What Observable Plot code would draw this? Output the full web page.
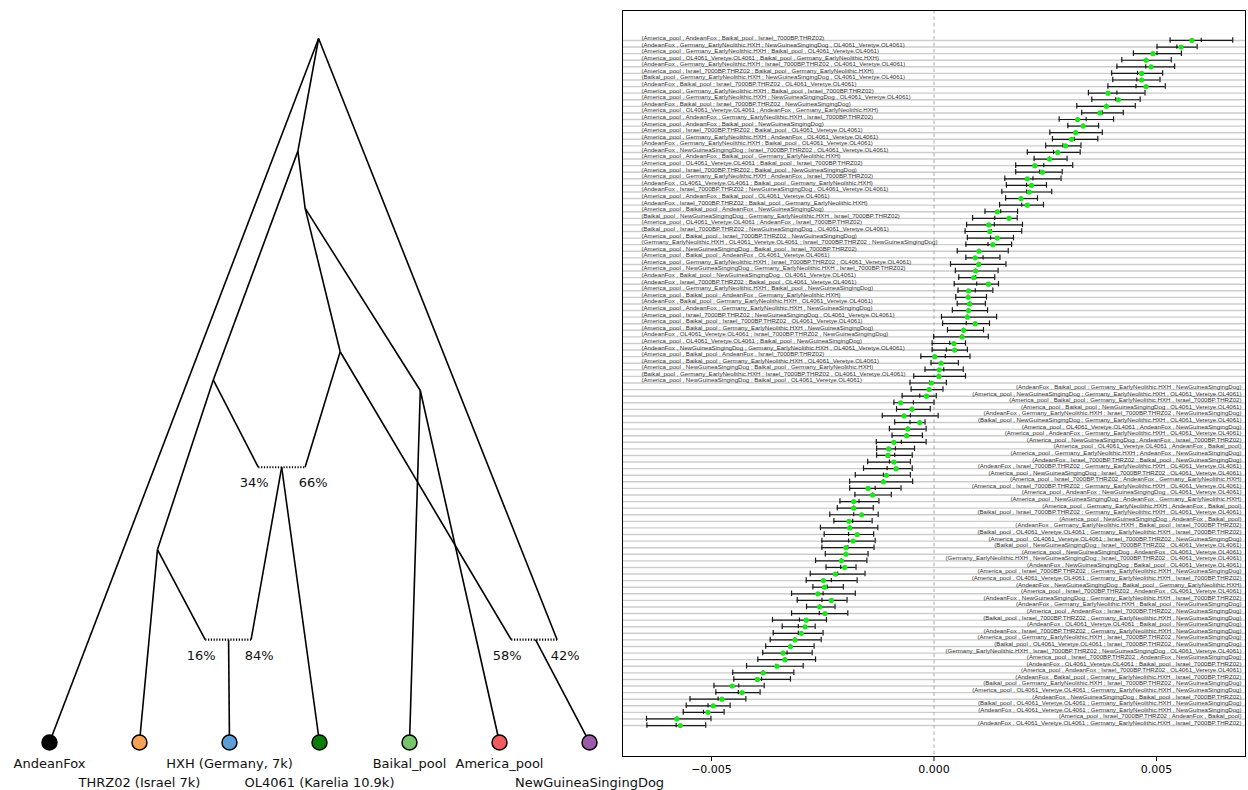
<!DOCTYPE html>
<html><head><meta charset="utf-8">
<script src="https://cdn.jsdelivr.net/npm/d3@7"></script>
<script src="https://cdn.jsdelivr.net/npm/@observablehq/plot@0.6"></script>
<style>
body{margin:0;background:#fff;}
#wrap{position:relative;width:1248px;height:790px;overflow:hidden;background:#fff;}
#tree{position:absolute;left:0;top:0;}
#f4{position:absolute;left:620px;top:0;}
</style></head><body><div id="wrap"><div id="tree"></div><div id="f4"></div></div>
<script>
// ---------- admixture graph (left) ----------
const leafNames = ["AndeanFox","THRZ02 (Israel 7k)","HXH (Germany, 7k)","OL4061 (Karelia 10.9k)","Baikal_pool","America_pool","NewGuineaSingingDog"];
const leafIds = ["AF","THRZ","HXH","OL","BAI","AME","NGSD"];
const leafColors = ["#000000","#f5a257","#5b9fd6","#0a7d0a","#78c46c","#ef5b5e","#9a5ca8"];
const leafLabelRow = [0,1,0,1,0,0,1];
const nodeIds    = ["R","B","C","D","E","G","H","L16","R84","HXHa","L34","R66","OLa","L58","R42","NGa"];
const nodeSlot   = [2.99,2.76,1.82,1.20,2.84,3.23,4.12,1.73,2.24,1.99,2.32,2.84,2.58,5.13,5.64,5.40];
const nodeHeight = [1.00,0.84,0.515,0.274,0.759,0.555,0.50,0.146,0.146,0.146,0.391,0.391,0.391,0.146,0.146,0.146];
const treeEdges = [["R","AF"],["R","B"],["R","R42"],["B","C"],["C","D"],["D","THRZ"],["D","L16"],["C","L34"],
  ["OLa","OL"],["OLa","R84"],["HXHa","HXH"],["B","E"],["E","G"],["G","R66"],["G","L58"],["E","H"],["H","BAI"],["H","AME"],["NGa","NGSD"]];
const admixLeft  = ["L16","L34","L58"];
const admixRight = ["R84","R66","R42"];
const admixLeftPct  = ["16%","34%","58%"];
const admixRightPct = ["84%","66%","42%"];

const pos = new Map();
leafIds.forEach((id,i)=>pos.set(id,{x:i,y:0}));
nodeIds.forEach((id,i)=>pos.set(id,{x:nodeSlot[i],y:nodeHeight[i]}));
const edgeData = treeEdges.map(([a,b])=>({x1:pos.get(a).x,y1:pos.get(a).y,x2:pos.get(b).x,y2:pos.get(b).y}));
const admixData = admixLeft.map((l,i)=>({x1:pos.get(l).x,x2:pos.get(admixRight[i]).x,y:pos.get(l).y,pl:admixLeftPct[i],pr:admixRightPct[i]}));
const leaves = leafIds.map((id,i)=>({x:i,y:0,name:leafNames[i],color:leafColors[i],row:leafLabelRow[i]}));

const tree = Plot.plot({
  width:700,height:790,margin:0,
  x:{domain:[-0.544,7.233],axis:null},
  y:{domain:[-0.0682,1.054],axis:null},
  style:{fontFamily:"DejaVu Sans",background:"transparent",overflow:"visible"},
  marks:[
    Plot.link(edgeData,{x1:"x1",y1:"y1",x2:"x2",y2:"y2",stroke:"#000",strokeWidth:1.6}),
    Plot.link(admixData,{x1:"x1",x2:"x2",y1:"y",y2:"y",stroke:"#000",strokeWidth:2.2,strokeDasharray:"1.2,1.6"}),
    Plot.text(admixData,{x:"x1",y:"y",text:"pl",dy:16,dx:-4,fontSize:13,fill:"#111"}),
    Plot.text(admixData,{x:"x2",y:"y",text:"pr",dy:16,dx:8,fontSize:13,fill:"#111"}),
    Plot.dot(leaves,{x:"x",y:"y",r:7.5,fill:"color",stroke:"#000",strokeWidth:1.5}),
    Plot.text(leaves.filter(d=>d.row===0),{x:"x",y:"y",text:"name",dy:21,fontSize:13,fill:"#111"}),
    Plot.text(leaves.filter(d=>d.row===1),{x:"x",y:"y",text:"name",dy:40,fontSize:13,fill:"#111"})
  ]
});
document.getElementById("tree").appendChild(tree);

// ---------- f4 statistics (right) ----------
const labels = [
"(America_pool , AndeanFox ; Baikal_pool , Israel_7000BP.THRZ02)",
"(AndeanFox , Germany_EarlyNeolithic.HXH ; NewGuineaSingingDog , OL4061_Veretye.OL4061)",
"(America_pool , Germany_EarlyNeolithic.HXH ; Baikal_pool , OL4061_Veretye.OL4061)",
"(America_pool , OL4061_Veretye.OL4061 ; Baikal_pool , Germany_EarlyNeolithic.HXH)",
"(AndeanFox , Germany_EarlyNeolithic.HXH ; Israel_7000BP.THRZ02 , OL4061_Veretye.OL4061)",
"(America_pool , Israel_7000BP.THRZ02 ; Baikal_pool , Germany_EarlyNeolithic.HXH)",
"(Baikal_pool , Germany_EarlyNeolithic.HXH ; NewGuineaSingingDog , OL4061_Veretye.OL4061)",
"(AndeanFox , Baikal_pool ; Israel_7000BP.THRZ02 , OL4061_Veretye.OL4061)",
"(America_pool , Germany_EarlyNeolithic.HXH ; Baikal_pool , Israel_7000BP.THRZ02)",
"(America_pool , Germany_EarlyNeolithic.HXH ; NewGuineaSingingDog , OL4061_Veretye.OL4061)",
"(AndeanFox , Baikal_pool ; Israel_7000BP.THRZ02 , NewGuineaSingingDog)",
"(America_pool , OL4061_Veretye.OL4061 ; AndeanFox , Germany_EarlyNeolithic.HXH)",
"(America_pool , AndeanFox ; Germany_EarlyNeolithic.HXH , Israel_7000BP.THRZ02)",
"(America_pool , AndeanFox ; Baikal_pool , NewGuineaSingingDog)",
"(America_pool , Israel_7000BP.THRZ02 ; Baikal_pool , OL4061_Veretye.OL4061)",
"(America_pool , Germany_EarlyNeolithic.HXH ; AndeanFox , OL4061_Veretye.OL4061)",
"(AndeanFox , Germany_EarlyNeolithic.HXH ; Baikal_pool , OL4061_Veretye.OL4061)",
"(AndeanFox , NewGuineaSingingDog ; Israel_7000BP.THRZ02 , OL4061_Veretye.OL4061)",
"(America_pool , AndeanFox ; Baikal_pool , Germany_EarlyNeolithic.HXH)",
"(America_pool , OL4061_Veretye.OL4061 ; Baikal_pool , Israel_7000BP.THRZ02)",
"(America_pool , Israel_7000BP.THRZ02 ; Baikal_pool , NewGuineaSingingDog)",
"(America_pool , Germany_EarlyNeolithic.HXH ; AndeanFox , Israel_7000BP.THRZ02)",
"(AndeanFox , OL4061_Veretye.OL4061 ; Baikal_pool , Germany_EarlyNeolithic.HXH)",
"(AndeanFox , Israel_7000BP.THRZ02 ; NewGuineaSingingDog , OL4061_Veretye.OL4061)",
"(America_pool , AndeanFox ; Baikal_pool , OL4061_Veretye.OL4061)",
"(AndeanFox , Israel_7000BP.THRZ02 ; Baikal_pool , Germany_EarlyNeolithic.HXH)",
"(America_pool , Baikal_pool ; AndeanFox , NewGuineaSingingDog)",
"(Baikal_pool , NewGuineaSingingDog ; Germany_EarlyNeolithic.HXH , Israel_7000BP.THRZ02)",
"(America_pool , OL4061_Veretye.OL4061 ; AndeanFox , Israel_7000BP.THRZ02)",
"(Baikal_pool , Israel_7000BP.THRZ02 ; NewGuineaSingingDog , OL4061_Veretye.OL4061)",
"(America_pool , Baikal_pool ; Israel_7000BP.THRZ02 , NewGuineaSingingDog)",
"(Germany_EarlyNeolithic.HXH , OL4061_Veretye.OL4061 ; Israel_7000BP.THRZ02 , NewGuineaSingingDog)",
"(America_pool , NewGuineaSingingDog ; Baikal_pool , Israel_7000BP.THRZ02)",
"(America_pool , Baikal_pool ; AndeanFox , OL4061_Veretye.OL4061)",
"(America_pool , Germany_EarlyNeolithic.HXH ; Israel_7000BP.THRZ02 , OL4061_Veretye.OL4061)",
"(America_pool , NewGuineaSingingDog ; Germany_EarlyNeolithic.HXH , Israel_7000BP.THRZ02)",
"(AndeanFox , Baikal_pool ; NewGuineaSingingDog , OL4061_Veretye.OL4061)",
"(AndeanFox , Israel_7000BP.THRZ02 ; Baikal_pool , OL4061_Veretye.OL4061)",
"(America_pool , Germany_EarlyNeolithic.HXH ; Baikal_pool , NewGuineaSingingDog)",
"(America_pool , Baikal_pool ; AndeanFox , Germany_EarlyNeolithic.HXH)",
"(AndeanFox , Baikal_pool ; Germany_EarlyNeolithic.HXH , OL4061_Veretye.OL4061)",
"(America_pool , AndeanFox ; Germany_EarlyNeolithic.HXH , NewGuineaSingingDog)",
"(America_pool , Israel_7000BP.THRZ02 ; NewGuineaSingingDog , OL4061_Veretye.OL4061)",
"(America_pool , Baikal_pool ; Israel_7000BP.THRZ02 , OL4061_Veretye.OL4061)",
"(America_pool , Baikal_pool ; Germany_EarlyNeolithic.HXH , NewGuineaSingingDog)",
"(AndeanFox , OL4061_Veretye.OL4061 ; Israel_7000BP.THRZ02 , NewGuineaSingingDog)",
"(America_pool , OL4061_Veretye.OL4061 ; Baikal_pool , NewGuineaSingingDog)",
"(AndeanFox , NewGuineaSingingDog ; Germany_EarlyNeolithic.HXH , OL4061_Veretye.OL4061)",
"(America_pool , Baikal_pool ; AndeanFox , Israel_7000BP.THRZ02)",
"(America_pool , Baikal_pool ; Germany_EarlyNeolithic.HXH , OL4061_Veretye.OL4061)",
"(America_pool , NewGuineaSingingDog ; Baikal_pool , Germany_EarlyNeolithic.HXH)",
"(Baikal_pool , Germany_EarlyNeolithic.HXH ; Israel_7000BP.THRZ02 , OL4061_Veretye.OL4061)",
"(America_pool , NewGuineaSingingDog ; Baikal_pool , OL4061_Veretye.OL4061)",
"(AndeanFox , Baikal_pool ; Germany_EarlyNeolithic.HXH , NewGuineaSingingDog)",
"(America_pool , NewGuineaSingingDog ; Germany_EarlyNeolithic.HXH , OL4061_Veretye.OL4061)",
"(America_pool , Baikal_pool ; Germany_EarlyNeolithic.HXH , Israel_7000BP.THRZ02)",
"(America_pool , Baikal_pool ; NewGuineaSingingDog , OL4061_Veretye.OL4061)",
"(AndeanFox , Germany_EarlyNeolithic.HXH ; Israel_7000BP.THRZ02 , NewGuineaSingingDog)",
"(Baikal_pool , NewGuineaSingingDog ; Germany_EarlyNeolithic.HXH , OL4061_Veretye.OL4061)",
"(America_pool , OL4061_Veretye.OL4061 ; AndeanFox , NewGuineaSingingDog)",
"(America_pool , AndeanFox ; Germany_EarlyNeolithic.HXH , OL4061_Veretye.OL4061)",
"(America_pool , NewGuineaSingingDog ; AndeanFox , Israel_7000BP.THRZ02)",
"(America_pool , OL4061_Veretye.OL4061 ; AndeanFox , Baikal_pool)",
"(America_pool , Germany_EarlyNeolithic.HXH ; AndeanFox , NewGuineaSingingDog)",
"(AndeanFox , Israel_7000BP.THRZ02 ; Baikal_pool , NewGuineaSingingDog)",
"(AndeanFox , Israel_7000BP.THRZ02 ; Germany_EarlyNeolithic.HXH , OL4061_Veretye.OL4061)",
"(America_pool , NewGuineaSingingDog ; Israel_7000BP.THRZ02 , OL4061_Veretye.OL4061)",
"(America_pool , Israel_7000BP.THRZ02 ; AndeanFox , Germany_EarlyNeolithic.HXH)",
"(America_pool , Israel_7000BP.THRZ02 ; Germany_EarlyNeolithic.HXH , OL4061_Veretye.OL4061)",
"(America_pool , AndeanFox ; NewGuineaSingingDog , OL4061_Veretye.OL4061)",
"(America_pool , NewGuineaSingingDog ; AndeanFox , Germany_EarlyNeolithic.HXH)",
"(America_pool , Germany_EarlyNeolithic.HXH ; AndeanFox , Baikal_pool)",
"(Baikal_pool , Israel_7000BP.THRZ02 ; Germany_EarlyNeolithic.HXH , OL4061_Veretye.OL4061)",
"(America_pool , NewGuineaSingingDog ; AndeanFox , Baikal_pool)",
"(AndeanFox , Germany_EarlyNeolithic.HXH ; Baikal_pool , Israel_7000BP.THRZ02)",
"(Baikal_pool , OL4061_Veretye.OL4061 ; Germany_EarlyNeolithic.HXH , Israel_7000BP.THRZ02)",
"(America_pool , OL4061_Veretye.OL4061 ; Israel_7000BP.THRZ02 , NewGuineaSingingDog)",
"(Baikal_pool , NewGuineaSingingDog ; Israel_7000BP.THRZ02 , OL4061_Veretye.OL4061)",
"(America_pool , NewGuineaSingingDog ; AndeanFox , OL4061_Veretye.OL4061)",
"(Germany_EarlyNeolithic.HXH , NewGuineaSingingDog ; Israel_7000BP.THRZ02 , OL4061_Veretye.OL4061)",
"(AndeanFox , NewGuineaSingingDog ; Baikal_pool , OL4061_Veretye.OL4061)",
"(America_pool , Israel_7000BP.THRZ02 ; Germany_EarlyNeolithic.HXH , NewGuineaSingingDog)",
"(America_pool , OL4061_Veretye.OL4061 ; Germany_EarlyNeolithic.HXH , Israel_7000BP.THRZ02)",
"(AndeanFox , NewGuineaSingingDog ; Baikal_pool , Germany_EarlyNeolithic.HXH)",
"(America_pool , Israel_7000BP.THRZ02 ; AndeanFox , OL4061_Veretye.OL4061)",
"(AndeanFox , NewGuineaSingingDog ; Germany_EarlyNeolithic.HXH , Israel_7000BP.THRZ02)",
"(AndeanFox , Germany_EarlyNeolithic.HXH ; Baikal_pool , NewGuineaSingingDog)",
"(America_pool , AndeanFox ; Israel_7000BP.THRZ02 , NewGuineaSingingDog)",
"(Baikal_pool , Israel_7000BP.THRZ02 ; Germany_EarlyNeolithic.HXH , NewGuineaSingingDog)",
"(AndeanFox , OL4061_Veretye.OL4061 ; Baikal_pool , NewGuineaSingingDog)",
"(AndeanFox , Israel_7000BP.THRZ02 ; Germany_EarlyNeolithic.HXH , NewGuineaSingingDog)",
"(America_pool , Germany_EarlyNeolithic.HXH ; Israel_7000BP.THRZ02 , NewGuineaSingingDog)",
"(Baikal_pool , OL4061_Veretye.OL4061 ; Israel_7000BP.THRZ02 , NewGuineaSingingDog)",
"(Germany_EarlyNeolithic.HXH , Israel_7000BP.THRZ02 ; NewGuineaSingingDog , OL4061_Veretye.OL4061)",
"(America_pool , Israel_7000BP.THRZ02 ; AndeanFox , NewGuineaSingingDog)",
"(AndeanFox , OL4061_Veretye.OL4061 ; Baikal_pool , Israel_7000BP.THRZ02)",
"(America_pool , AndeanFox ; Israel_7000BP.THRZ02 , OL4061_Veretye.OL4061)",
"(AndeanFox , Baikal_pool ; Germany_EarlyNeolithic.HXH , Israel_7000BP.THRZ02)",
"(Baikal_pool , Germany_EarlyNeolithic.HXH ; Israel_7000BP.THRZ02 , NewGuineaSingingDog)",
"(America_pool , OL4061_Veretye.OL4061 ; Germany_EarlyNeolithic.HXH , NewGuineaSingingDog)",
"(AndeanFox , NewGuineaSingingDog ; Baikal_pool , Israel_7000BP.THRZ02)",
"(Baikal_pool , OL4061_Veretye.OL4061 ; Germany_EarlyNeolithic.HXH , NewGuineaSingingDog)",
"(AndeanFox , OL4061_Veretye.OL4061 ; Germany_EarlyNeolithic.HXH , NewGuineaSingingDog)",
"(America_pool , Israel_7000BP.THRZ02 ; AndeanFox , Baikal_pool)",
"(AndeanFox , OL4061_Veretye.OL4061 ; Germany_EarlyNeolithic.HXH , Israel_7000BP.THRZ02)"
];
// model-fitted f4 (green dot), observed f4 (black tick), error bar ends
const est = [0.005795,0.005551,0.004919,0.004767,0.004877,0.004666,0.004666,0.004767,0.003908,0.004144,0.003875,0.003731,0.003226,0.003352,0.003184,0.003091,0.002956,0.002780,0.002594,0.002266,0.002434,0.002097,0.002190,0.002139,0.001954,0.002097,0.001423,0.001685,0.001230,0.001255,0.001423,0.001322,0.001011,0.000927,0.001002,0.000935,0.000893,0.001221,0.000775,0.000766,0.000800,0.000775,0.000750,0.000927,0.000665,0.000632,0.000446,0.000463,0.000017,0.000160,0.000118,0.000110,-0.000059,-0.000110,-0.000168,-0.000750,-0.000497,-0.000674,-0.000320,-0.000590,-0.000615,-0.000901,-0.001019,-0.001036,-0.000901,-0.000851,-0.001070,-0.001137,-0.001482,-0.001381,-0.001803,-0.001803,-0.001626,-0.001912,-0.001895,-0.001727,-0.001819,-0.001979,-0.001979,-0.002080,-0.002005,-0.002215,-0.002485,-0.002460,-0.002611,-0.002308,-0.002569,-0.002451,-0.002872,-0.002898,-0.002982,-0.003125,-0.003226,-0.003394,-0.003352,-0.003529,-0.003841,-0.003967,-0.004532,-0.004313,-0.004767,-0.004961,-0.005079,-0.005778,-0.005702];
const obs = [0.006006,0.005458,0.005012,0.004767,0.004759,0.004574,0.004557,0.004540,0.004110,0.004085,0.003875,0.003782,0.003420,0.003352,0.003184,0.003150,0.002898,0.002687,0.002594,0.002468,0.002375,0.002224,0.002080,0.002080,0.001954,0.001971,0.001499,0.001365,0.001356,0.001289,0.001272,0.001213,0.001011,0.001103,0.001002,0.000935,0.000935,0.000960,0.000927,0.000766,0.000800,0.000775,0.000750,0.000724,0.000665,0.000632,0.000354,0.000278,0.000253,0.000160,0.000219,0.000110,-0.000101,-0.000110,-0.000320,-0.000463,-0.000497,-0.000531,-0.000539,-0.000590,-0.000615,-0.000733,-0.000868,-0.000884,-0.001002,-0.001053,-0.001137,-0.001137,-0.001322,-0.001381,-0.001685,-0.001803,-0.001803,-0.001828,-0.001895,-0.001920,-0.001920,-0.001937,-0.001979,-0.002080,-0.002097,-0.002165,-0.002308,-0.002401,-0.002493,-0.002518,-0.002569,-0.002577,-0.003024,-0.003049,-0.003049,-0.003125,-0.003226,-0.003302,-0.003352,-0.003554,-0.003841,-0.003875,-0.004388,-0.004397,-0.004852,-0.005079,-0.005180,-0.005778,-0.005795];
const ciLow = [0.005306,0.005012,0.004481,0.004220,0.004110,0.003993,0.004018,0.003908,0.003470,0.003546,0.003209,0.003319,0.002813,0.003007,0.002603,0.002662,0.002510,0.002097,0.002249,0.001836,0.001836,0.001592,0.001626,0.001525,0.001609,0.001474,0.001146,0.000868,0.000733,0.000699,0.000750,0.000716,0.000522,0.000716,0.000371,0.000480,0.000556,0.000455,0.000539,0.000489,0.000522,0.000413,0.000168,0.000194,0.000303,-0.000008,-0.000042,-0.000042,-0.000295,-0.000067,-0.000202,-0.000455,-0.000539,-0.000514,-0.000716,-0.000901,-0.000842,-0.001162,-0.000884,-0.001002,-0.000943,-0.001297,-0.001289,-0.001289,-0.001491,-0.001584,-0.001769,-0.001895,-0.001895,-0.001777,-0.002114,-0.002173,-0.002342,-0.002249,-0.002552,-0.002468,-0.002519,-0.002519,-0.002443,-0.002662,-0.002426,-0.002780,-0.002872,-0.002721,-0.003201,-0.003074,-0.002864,-0.003201,-0.003630,-0.003411,-0.003613,-0.003681,-0.003782,-0.003849,-0.003959,-0.004212,-0.004523,-0.004498,-0.004944,-0.004902,-0.005483,-0.005568,-0.005635,-0.006461,-0.006452];
const ciHigh = [0.006713,0.005913,0.005559,0.005332,0.005408,0.005138,0.005079,0.005197,0.004742,0.004633,0.004523,0.004254,0.004035,0.003698,0.003782,0.003681,0.003302,0.003285,0.002990,0.003117,0.002881,0.002855,0.002527,0.002645,0.002325,0.002460,0.001878,0.001870,0.001988,0.001971,0.001786,0.001744,0.001668,0.001482,0.001617,0.001440,0.001365,0.001449,0.001322,0.001179,0.001154,0.001204,0.001407,0.001247,0.001112,0.001221,0.000708,0.000750,0.000809,0.000547,0.000657,0.000708,0.000278,0.000202,0.000051,0.000000,-0.000084,0.000093,-0.000202,-0.000177,-0.000261,-0.000177,-0.000438,-0.000489,-0.000531,-0.000489,-0.000531,-0.000480,-0.000741,-0.000960,-0.001238,-0.001365,-0.001255,-0.001390,-0.001263,-0.001356,-0.001322,-0.001348,-0.001482,-0.001508,-0.001752,-0.001550,-0.001727,-0.002038,-0.001769,-0.001954,-0.002224,-0.001937,-0.002417,-0.002670,-0.002493,-0.002535,-0.002695,-0.002737,-0.002662,-0.002940,-0.003150,-0.003226,-0.003816,-0.003908,-0.004228,-0.004582,-0.004717,-0.005012,-0.005130];
const xTicks = [-0.005,0,0.005];
const xLimits = [-0.007,0.007];

const rows = labels.map((l,i)=>({i:i+1,label:l,est:est[i],obs:obs[i],lo:ciLow[i],hi:ciHigh[i]}));
const half = 53;

const f4 = Plot.plot({
  width:628,height:790,marginLeft:2,marginRight:3,marginTop:10,marginBottom:34,
  x:{domain:xLimits,label:null},
  y:{domain:[-3.55,109.7],reverse:true,axis:null},
  style:{fontFamily:"DejaVu Sans",background:"transparent"},
  marks:[
    Plot.ruleY(rows,{y:"i",stroke:"#cdcdcd",strokeWidth:1.4}),
    Plot.ruleX([0],{stroke:"#a0a0a0",strokeWidth:0.9,strokeDasharray:"3.5,3"}),
    Plot.ruleY(rows,{y:"i",x1:"lo",x2:"hi",stroke:"#1a1a1a",strokeWidth:1.2}),
    Plot.ruleX(rows,{x:"lo",y1:d=>d.i-0.42,y2:d=>d.i+0.42,stroke:"#1a1a1a",strokeWidth:1.2}),
    Plot.ruleX(rows,{x:"hi",y1:d=>d.i-0.42,y2:d=>d.i+0.42,stroke:"#1a1a1a",strokeWidth:1.2}),
    Plot.ruleX(rows,{x:"obs",y1:d=>d.i-0.32,y2:d=>d.i+0.32,stroke:"#1a1a1a",strokeWidth:1.2}),
    Plot.dot(rows,{x:"est",y:"i",r:2.6,fill:"#1de41d"}),
    Plot.text(rows.filter(d=>d.i<=half),{y:"i",text:"label",frameAnchor:"left",textAnchor:"start",dx:19,dy:-2.5,fontSize:6.1,fontFamily:"Liberation Sans",fill:"#333"}),
    Plot.text(rows.filter(d=>d.i>half),{y:"i",text:"label",frameAnchor:"right",textAnchor:"end",dx:-4,dy:-2.5,fontSize:6.1,fontFamily:"Liberation Sans",fill:"#333"}),
    Plot.frame({stroke:"#000",strokeWidth:1}),
    Plot.axisX({ticks:xTicks,tickFormat:d3.format(".3f"),tickSize:5,fontSize:11,label:null,tickPadding:4})
  ]
});
document.getElementById("f4").appendChild(f4);
</script></body></html>
